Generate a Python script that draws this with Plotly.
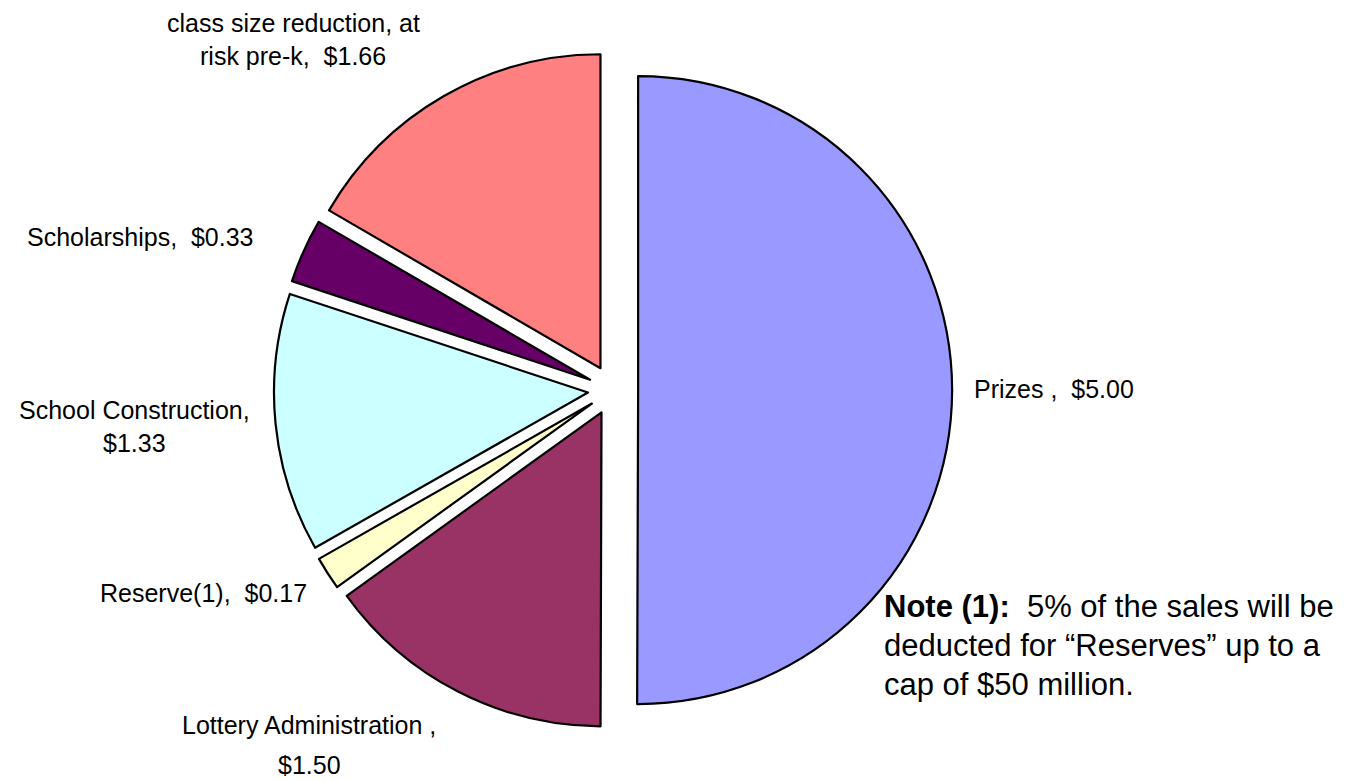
import plotly.graph_objects as go

# ---- data ----
categories = ["Prizes ", "Lottery Administration ", "Reserve(1)", "School Construction",
              "Scholarships", "class size reduction, at risk pre-k"]
values = [5.00, 1.50, 0.17, 1.33, 0.33, 1.66]
colors = ["#9999FF", "#993366", "#FFFFCC", "#CCFFFF", "#660066", "#FF8080"]
# how each data label is broken into lines
label_breaks = [None, "after_name", None, "after_name", None, "risk"]
note_lines = ["<b>Note (1):</b>\u00a0 5% of the sales will be",
              "deducted for \u201cReserves\u201d up to a",
              "cap of $50 million."]

W, H = 1360, 780
pull = 0.08
cx, cy, r = 613, 390, 314
box = 2 * r * (1 + pull)

fig = go.Figure(go.Pie(
    labels=categories, values=values, sort=False, direction="clockwise", rotation=0,
    marker=dict(colors=colors, line=dict(color="black", width=2.2)),
    pull=[pull] * len(values), textinfo="none", hoverinfo="label+value",
    domain=dict(x=[(cx - box / 2) / W, (cx + box / 2) / W],
                y=[1 - (cy + box / 2) / H, 1 - (cy - box / 2) / H]),
    showlegend=False,
))

def label_lines(name, val, brk):
    vs = "$%.2f" % val
    if brk is None:
        return [name + ",\u00a0 " + vs]
    if brk == "after_name":
        return [name + ",", vs]
    i = name.index(brk)
    return [name[:i].rstrip(), name[i:] + ",\u00a0 " + vs]

# label placement (pixel centres of each text line)
label_pos = [
    (972, [389], "left"),
    (309, [725, 765], "center"),
    (203, [593], "center"),
    (134, [410, 443], "center"),
    (140, [237], "center"),
    (293, [23, 56], "center"),
]

annotations = []
for name, val, brk, (px, ys, anc) in zip(categories, values, label_breaks, label_pos):
    for line, py in zip(label_lines(name, val, brk), ys):
        annotations.append(dict(
            text=line, x=px / W, y=1 - py / H, xref="paper", yref="paper",
            xanchor=anc, yanchor="middle", showarrow=False,
            font=dict(family="Arial, Liberation Sans, sans-serif", size=25, color="black")))

for i, line in enumerate(note_lines):
    annotations.append(dict(
        text=line, x=882 / W, y=1 - (606 + 39 * i) / H, xref="paper", yref="paper",
        xanchor="left", yanchor="middle", showarrow=False,
        font=dict(family="Arial, Liberation Sans, sans-serif", size=31, color="black")))

fig.update_layout(
    width=W, height=H, autosize=False,
    margin=dict(l=0, r=0, t=0, b=0),
    paper_bgcolor="white", plot_bgcolor="white",
    annotations=annotations,
)

fig.write_html("out.html", config={"displayModeBar": False},
               post_script="document.body.style.margin='0';")
